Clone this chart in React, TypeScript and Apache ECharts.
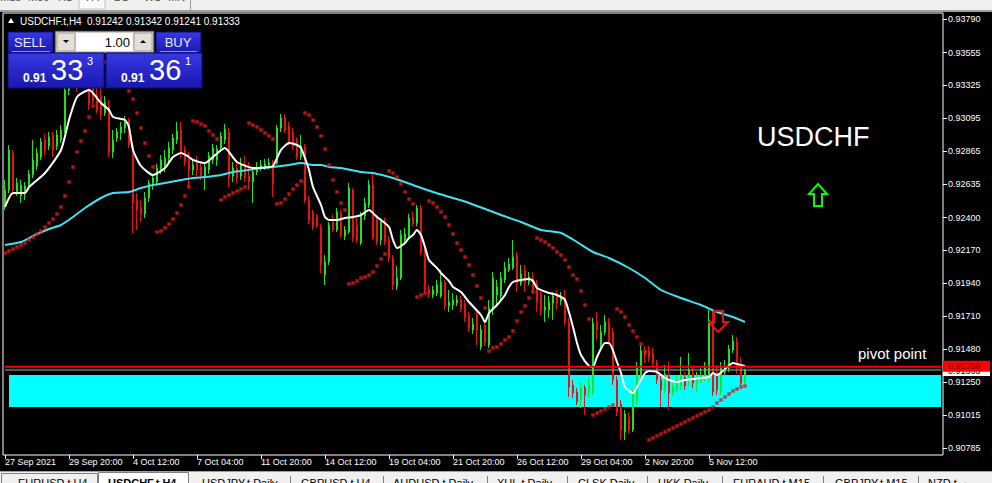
import React, { useEffect, useRef } from "react";
import * as echarts from "echarts";

const F = '"Liberation Sans", Arial, sans-serif';

// ---------- data ----------
const symbolName = "USDCHF.t,H4";
const lastQuote = "0.91242 0.91342 0.91241 0.91333";
const timeLabels = [
  "27 Sep 2021", "29 Sep 20:00", "4 Oct 12:00", "7 Oct 04:00", "11 Oct 20:00", "14 Oct 12:00",
  "19 Oct 04:00", "21 Oct 20:00", "26 Oct 12:00", "29 Oct 04:00", "2 Nov 20:00", "5 Nov 12:00",
];
const LABEL_STEP = 16; // bars between time labels
const SLOTS = 235; // bar slots across the plot (incl. empty right margin)

// [open, high, low, close]
const bars: number[][] = [
  [0.92488, 0.92663, 0.92453, 0.92593], [0.92593, 0.92908, 0.92572, 0.92873], [0.92852, 0.92873, 0.92558, 0.92593],
  [0.92579, 0.92677, 0.92551, 0.92642], [0.92551, 0.92663, 0.92502, 0.92628], [0.92572, 0.92649, 0.92523, 0.92621],
  [0.92614, 0.92733, 0.92593, 0.92705], [0.92698, 0.92943, 0.92677, 0.92803], [0.92761, 0.92887, 0.92733, 0.92852],
  [0.92824, 0.92957, 0.92803, 0.92929], [0.92943, 0.92985, 0.92838, 0.92873], [0.92901, 0.92999, 0.92873, 0.92964],
  [0.92978, 0.92999, 0.92824, 0.92873], [0.92901, 0.93013, 0.92873, 0.92978], [0.92943, 0.93048, 0.92922, 0.93013],
  [0.93013, 0.93328, 0.92992, 0.93293], [0.93293, 0.93433, 0.93258, 0.93377], [0.93377, 0.93468, 0.93328, 0.93419],
  [0.93419, 0.93461, 0.93279, 0.93349], [0.93349, 0.93447, 0.93307, 0.93405], [0.93398, 0.93489, 0.93321, 0.93433],
  [0.93433, 0.93461, 0.93153, 0.93188], [0.93328, 0.93377, 0.93195, 0.93223], [0.93258, 0.93349, 0.93132, 0.93153],
  [0.93251, 0.93307, 0.93083, 0.93118], [0.93132, 0.93251, 0.93111, 0.93209], [0.93181, 0.93223, 0.92824, 0.92859],
  [0.92859, 0.93013, 0.92817, 0.92943], [0.92957, 0.93027, 0.92929, 0.92999], [0.92992, 0.93069, 0.92943, 0.93034],
  [0.93027, 0.93111, 0.92992, 0.93083], [0.93083, 0.93097, 0.92887, 0.92908], [0.92908, 0.92929, 0.92292, 0.92502],
  [0.92523, 0.92572, 0.92313, 0.92453], [0.92467, 0.92523, 0.92369, 0.92425], [0.92425, 0.92579, 0.92397, 0.92537],
  [0.92537, 0.92663, 0.92509, 0.92642], [0.92642, 0.92705, 0.92593, 0.92677], [0.92649, 0.92775, 0.92621, 0.92747],
  [0.92733, 0.92838, 0.92705, 0.92803], [0.92747, 0.92873, 0.92719, 0.92817], [0.92817, 0.92929, 0.92789, 0.92887],
  [0.92873, 0.92985, 0.92845, 0.92957], [0.92943, 0.93069, 0.92915, 0.93006], [0.93013, 0.93069, 0.92817, 0.92859],
  [0.92873, 0.92901, 0.92761, 0.92789], [0.92817, 0.92859, 0.92607, 0.92726], [0.92733, 0.92803, 0.92698, 0.92768],
  [0.92796, 0.92831, 0.92677, 0.92733], [0.92754, 0.92782, 0.92663, 0.92691], [0.92691, 0.92789, 0.92593, 0.92754],
  [0.92733, 0.92859, 0.92705, 0.92831], [0.92803, 0.92915, 0.92775, 0.92887], [0.92803, 0.92908, 0.92761, 0.92880],
  [0.92887, 0.92999, 0.92859, 0.92971], [0.92943, 0.93055, 0.92915, 0.93020], [0.92999, 0.93027, 0.92614, 0.92677],
  [0.92691, 0.92789, 0.92649, 0.92747], [0.92747, 0.92803, 0.92642, 0.92677], [0.92691, 0.92817, 0.92663, 0.92775],
  [0.92775, 0.92831, 0.92649, 0.92677], [0.92691, 0.92789, 0.92593, 0.92649], [0.92649, 0.92747, 0.92502, 0.92719],
  [0.92719, 0.92789, 0.92698, 0.92754], [0.92754, 0.92803, 0.92726, 0.92768], [0.92761, 0.92810, 0.92733, 0.92775],
  [0.92768, 0.92817, 0.92740, 0.92782], [0.92782, 0.92803, 0.92544, 0.92635], [0.92782, 0.93048, 0.92768, 0.93027],
  [0.93027, 0.93125, 0.92999, 0.93097], [0.93104, 0.93125, 0.92992, 0.93013], [0.93041, 0.93069, 0.92908, 0.92929],
  [0.92992, 0.93027, 0.92873, 0.92894], [0.92943, 0.92964, 0.92803, 0.92824], [0.92824, 0.92978, 0.92803, 0.92901],
  [0.92894, 0.92915, 0.92502, 0.92523], [0.92523, 0.92551, 0.92355, 0.92383], [0.92432, 0.92453, 0.92313, 0.92334],
  [0.92404, 0.92425, 0.92327, 0.92341], [0.92334, 0.92355, 0.92012, 0.92068], [0.91998, 0.92138, 0.91928, 0.92089],
  [0.92089, 0.92369, 0.92068, 0.92348], [0.92369, 0.92418, 0.92299, 0.92313], [0.92313, 0.92467, 0.92299, 0.92439],
  [0.92432, 0.92453, 0.92257, 0.92278], [0.92271, 0.92341, 0.92243, 0.92313], [0.92299, 0.92642, 0.92285, 0.92607],
  [0.92593, 0.92607, 0.92229, 0.92257], [0.92348, 0.92397, 0.92222, 0.92243], [0.92222, 0.92439, 0.92208, 0.92418],
  [0.92411, 0.92537, 0.92383, 0.92502], [0.92488, 0.92663, 0.92467, 0.92628], [0.92628, 0.92719, 0.92243, 0.92257],
  [0.92397, 0.92418, 0.92208, 0.92229], [0.92243, 0.92397, 0.92208, 0.92369], [0.92369, 0.92397, 0.92208, 0.92229],
  [0.92243, 0.92271, 0.92089, 0.92117], [0.92117, 0.92138, 0.91893, 0.91928], [0.91921, 0.92061, 0.91893, 0.91977],
  [0.91977, 0.92313, 0.91963, 0.92278], [0.92243, 0.92327, 0.92208, 0.92285], [0.92271, 0.92425, 0.92243, 0.92397],
  [0.92404, 0.92439, 0.92341, 0.92355], [0.92362, 0.92488, 0.92341, 0.92467], [0.92467, 0.92488, 0.92138, 0.92159],
  [0.92173, 0.92201, 0.91872, 0.91893], [0.91900, 0.91928, 0.91837, 0.91865], [0.91858, 0.91921, 0.91837, 0.91893],
  [0.91872, 0.91963, 0.91851, 0.91928], [0.91851, 0.92033, 0.91837, 0.91949], [0.91942, 0.91963, 0.91753, 0.91781],
  [0.91781, 0.91893, 0.91739, 0.91809], [0.91788, 0.91872, 0.91753, 0.91823], [0.91802, 0.91858, 0.91781, 0.91823],
  [0.91823, 0.91851, 0.91739, 0.91760], [0.91795, 0.91823, 0.91669, 0.91697], [0.91711, 0.91739, 0.91599, 0.91627],
  [0.91613, 0.91697, 0.91585, 0.91655], [0.91718, 0.91753, 0.91508, 0.91613], [0.91494, 0.91648, 0.91473, 0.91613],
  [0.91648, 0.91683, 0.91501, 0.91529], [0.91508, 0.91823, 0.91487, 0.91767], [0.91753, 0.92019, 0.91718, 0.91977],
  [0.91858, 0.91963, 0.91788, 0.91914], [0.91851, 0.92019, 0.91823, 0.91977], [0.91963, 0.92089, 0.91942, 0.92047],
  [0.92033, 0.92117, 0.92019, 0.92075], [0.92047, 0.92243, 0.92033, 0.92124], [0.92131, 0.92159, 0.91879, 0.91942],
  [0.91942, 0.92068, 0.91921, 0.92005], [0.92033, 0.92068, 0.91879, 0.91942], [0.91949, 0.92019, 0.91928, 0.91984],
  [0.91977, 0.92019, 0.91872, 0.91893], [0.91935, 0.91963, 0.91739, 0.91809], [0.91865, 0.91893, 0.91711, 0.91753],
  [0.91753, 0.91858, 0.91669, 0.91774], [0.91753, 0.91851, 0.91697, 0.91809], [0.91802, 0.91879, 0.91683, 0.91851],
  [0.91858, 0.91893, 0.91753, 0.91802], [0.91816, 0.91879, 0.91788, 0.91851], [0.91844, 0.91893, 0.91648, 0.91669],
  [0.91669, 0.91697, 0.91144, 0.91214], [0.91228, 0.91263, 0.91137, 0.91172], [0.91179, 0.91207, 0.91088, 0.91109],
  [0.91123, 0.91249, 0.91067, 0.91207], [0.91207, 0.91228, 0.91018, 0.91158], [0.91172, 0.91277, 0.91137, 0.91235],
  [0.91179, 0.91697, 0.91158, 0.91662], [0.91669, 0.91739, 0.91543, 0.91613], [0.91508, 0.91648, 0.91473, 0.91599],
  [0.91599, 0.91718, 0.91578, 0.91669], [0.91662, 0.91697, 0.91508, 0.91543], [0.91599, 0.91627, 0.91228, 0.91263],
  [0.91263, 0.91291, 0.91011, 0.91039], [0.91095, 0.91123, 0.90843, 0.90913], [0.90899, 0.91053, 0.90843, 0.91025],
  [0.91004, 0.91039, 0.90885, 0.90913], [0.90913, 0.91193, 0.90899, 0.91165], [0.91123, 0.91389, 0.91088, 0.91347],
  [0.91291, 0.91508, 0.91263, 0.91466], [0.91473, 0.91501, 0.91382, 0.91431], [0.91466, 0.91501, 0.91389, 0.91424],
  [0.91452, 0.91487, 0.91361, 0.91382], [0.91382, 0.91403, 0.91235, 0.91263], [0.91263, 0.91298, 0.91074, 0.91193],
  [0.91193, 0.91368, 0.91172, 0.91305], [0.91291, 0.91389, 0.91053, 0.91172], [0.91172, 0.91263, 0.91151, 0.91214],
  [0.91200, 0.91291, 0.91179, 0.91242], [0.91221, 0.91424, 0.91193, 0.91284], [0.91277, 0.91319, 0.91193, 0.91221],
  [0.91263, 0.91452, 0.91221, 0.91333], [0.91312, 0.91347, 0.91207, 0.91242], [0.91242, 0.91319, 0.91179, 0.91284],
  [0.91263, 0.91347, 0.91242, 0.91298], [0.91284, 0.91389, 0.91256, 0.91347], [0.91277, 0.91753, 0.91249, 0.91683],
  [0.91725, 0.91753, 0.91151, 0.91179], [0.91319, 0.91368, 0.91158, 0.91193], [0.91179, 0.91389, 0.91158, 0.91347],
  [0.91319, 0.91403, 0.91291, 0.91354], [0.91340, 0.91508, 0.91319, 0.91480], [0.91473, 0.91578, 0.91452, 0.91536],
  [0.91536, 0.91564, 0.91305, 0.91347], [0.91375, 0.91424, 0.91221, 0.91242], [0.91242, 0.91342, 0.91241, 0.91333],
];

// Parabolic SAR, one dot per bar
const sar: number[] = [
  0.92152, 0.92166, 0.92180, 0.92194, 0.92208, 0.92222, 0.92243, 0.92264, 0.92285, 0.92306,
  0.92334, 0.92362, 0.92390, 0.92425, 0.92474, 0.92551, 0.92649, 0.92754, 0.92859, 0.92936,
  0.93006, 0.93104, 0.93181,
  0.93503, 0.93496, 0.93489, 0.93475, 0.93454, 0.93426, 0.93391, 0.93342, 0.93286, 0.93230,
  0.93132, 0.93027, 0.92922, 0.92831, 0.92754,
  0.92299, 0.92306, 0.92327, 0.92355, 0.92390, 0.92432, 0.92488, 0.92551, 0.92614,
  0.93076, 0.93069, 0.93055, 0.93041, 0.93006, 0.92978, 0.92950,
  0.92523, 0.92544, 0.92558, 0.92572, 0.92586, 0.92600, 0.92614,
  0.93062, 0.93048, 0.93034, 0.93013, 0.92992, 0.92971, 0.92950,
  0.92495, 0.92502, 0.92530, 0.92565, 0.92600, 0.92628, 0.92656,
  0.93132, 0.93118, 0.93083, 0.93034, 0.92971, 0.92880, 0.92768, 0.92663, 0.92579, 0.92502, 0.92453,
  0.91935, 0.91942, 0.91956, 0.91977, 0.91984, 0.91998, 0.92019, 0.92061, 0.92110, 0.92145,
  0.92726, 0.92712, 0.92684, 0.92635, 0.92579, 0.92530, 0.92495,
  0.91844, 0.91858, 0.91872,
  0.92516, 0.92502, 0.92474, 0.92439, 0.92404, 0.92348, 0.92285, 0.92222, 0.92173, 0.92124,
  0.92068, 0.91998, 0.91921, 0.91837, 0.91767,
  0.91466, 0.91487, 0.91494, 0.91515, 0.91543, 0.91564, 0.91606, 0.91676, 0.91739, 0.91781, 0.91837, 0.91879,
  0.92257, 0.92243, 0.92229, 0.92208, 0.92187, 0.92159, 0.92138, 0.92103, 0.92054, 0.91998,
  0.91970, 0.91886, 0.91788, 0.91690,
  0.91018, 0.91032, 0.91046, 0.91060, 0.91074, 0.91088,
  0.91760, 0.91739, 0.91704, 0.91648, 0.91606, 0.91564, 0.91515, 0.91459,
  0.90843, 0.90857, 0.90871, 0.90885, 0.90899, 0.90913, 0.90927, 0.90941, 0.90955, 0.90969,
  0.90983, 0.90997, 0.91011, 0.91025, 0.91039, 0.91053, 0.91074, 0.91102, 0.91123, 0.91144,
  0.91165, 0.91186, 0.91200, 0.91214, 0.91221,
];

// fast moving average (white), read at [bar, price]
const fastMA: number[][] = [
  [0, 0.92474], [2, 0.92572], [5, 0.92572], [6, 0.92614], [10, 0.92712], [14, 0.92873], [16, 0.93083],
  [18, 0.93244], [21, 0.93293], [24, 0.93202], [26, 0.93153], [27, 0.93104], [30, 0.93083], [31, 0.93034],
  [32, 0.92873], [34, 0.92761], [37, 0.92698], [40, 0.92747], [42, 0.92824], [44, 0.92852], [46, 0.92824],
  [47, 0.92803], [50, 0.92782], [52, 0.92824], [55, 0.92887], [56, 0.92859], [58, 0.92789], [62, 0.92747],
  [66, 0.92754], [67, 0.92761], [69, 0.92873], [71, 0.92922], [73, 0.92908], [74, 0.92887], [75, 0.92817],
  [76, 0.92733], [77, 0.92614], [79, 0.92488], [80, 0.92404], [81, 0.92383], [83, 0.92383], [85, 0.92397],
  [87, 0.92404], [89, 0.92418], [91, 0.92453], [93, 0.92404], [94, 0.92383], [96, 0.92334], [97, 0.92243],
  [98, 0.92187], [100, 0.92222], [101, 0.92257], [102, 0.92278], [103, 0.92313], [104, 0.92278], [105, 0.92194],
  [106, 0.92103], [108, 0.92047], [109, 0.92012], [111, 0.91956], [112, 0.91914], [114, 0.91879], [116, 0.91809],
  [119, 0.91718], [120, 0.91669], [121, 0.91732], [123, 0.91788], [125, 0.91858], [126, 0.91914], [127, 0.91949],
  [129, 0.91963], [131, 0.91970], [132, 0.91956], [133, 0.91907], [136, 0.91872], [138, 0.91858], [140, 0.91823],
  [142, 0.91634], [143, 0.91522], [144, 0.91438], [146, 0.91361], [147, 0.91354], [148, 0.91424], [150, 0.91522],
  [151, 0.91522], [153, 0.91389], [154, 0.91312], [155, 0.91214], [157, 0.91172], [158, 0.91214], [160, 0.91312],
  [161, 0.91326], [163, 0.91319], [165, 0.91277], [166, 0.91263], [168, 0.91249], [170, 0.91263], [172, 0.91270],
  [174, 0.91277], [176, 0.91284], [177, 0.91312], [178, 0.91298], [180, 0.91340], [182, 0.91382], [183, 0.91375],
  [185, 0.91361],
];

// slow moving average (cyan), read at [bar, price]
const slowMA: number[][] = [
  [0, 0.92208], [4, 0.92229], [7, 0.92271], [11, 0.92320], [14, 0.92348], [17, 0.92404], [20, 0.92467],
  [24, 0.92537], [27, 0.92572], [31, 0.92579], [34, 0.92607], [37, 0.92628], [40, 0.92642], [44, 0.92663],
  [47, 0.92677], [50, 0.92684], [54, 0.92698], [57, 0.92719], [61, 0.92733], [64, 0.92747], [67, 0.92754],
  [71, 0.92768], [74, 0.92782], [77, 0.92768], [79, 0.92768], [81, 0.92754], [84, 0.92747], [89, 0.92719],
  [92, 0.92712], [97, 0.92677], [102, 0.92628], [107, 0.92579], [112, 0.92537], [116, 0.92502], [124, 0.92418],
  [129, 0.92369], [134, 0.92313], [139, 0.92292], [143, 0.92229], [147, 0.92159], [151, 0.92117], [156, 0.92047],
  [160, 0.91977], [164, 0.91893], [169, 0.91837], [174, 0.91788], [178, 0.91739], [182, 0.91704], [185, 0.91669],
];

const priceTicks = [
  0.90785, 0.91015, 0.9125, 0.9148, 0.9171, 0.9194, 0.9217, 0.924, 0.92635, 0.92865, 0.93095, 0.93325, 0.93555, 0.9379,
];
const priceMin = 0.90738;
const priceMax = 0.93832;
const pivotPrice = 0.91356;
const bidPrice = 0.91333;
const zoneLow = 0.91074;
const zoneHigh = 0.91298;
const zoneFromBar = 1;
const zoneToBar = 234;
const lineFromBar = 0;

const sellQuote = { pre: "0.91", big: "33", sup: "3" };
const buyQuote = { pre: "0.91", big: "36", sup: "1" };
const lotSize = "1.00";
const timeframes = ["M15", "M30", "H1", "H4", "D1", "W1", "MN"];
const timeframeX = [0, 28, 58, 86, 114, 144, 168];
const tabs = [
  "EURUSD.t,H4", "USDCHF.t,H4", "USDJPY.t,Daily", "GBPUSD.t,H4", "AUDUSD.t,Daily", "XUL.t,Daily",
  "CLSK,Daily", "UKK,Daily", "EURAUD.t,M15", "GBPJPY.t,M15", "NZD.t",
];
const tabX = [18, 108, 202, 301, 393, 497, 578, 658, 733, 835, 928];
const tabSeparators = [290, 383, 487, 567, 647, 722, 823, 918];

// ---------- styling ----------
const GREEN = "#22e022";
const RED = "#e81212";

const labelAt = (i: number) => i % LABEL_STEP === 0 && i / LABEL_STEP < timeLabels.length;
const categories = Array.from({ length: SLOTS }, (_, i) => (labelAt(i) ? timeLabels[i / LABEL_STEP] : String(i)));

const text = (t: string, x: number, y: number, o: any = {}) => ({
  type: "text",
  x,
  y,
  z: 100,
  silent: true,
  style: { text: t, fill: "#ffffff", fontSize: 10, fontFamily: F, align: "left", verticalAlign: "middle", ...o },
});
const rect = (x: number, y: number, w: number, h: number, style: any) => ({
  type: "rect",
  z: 100,
  silent: true,
  shape: { x, y, width: w, height: h },
  style,
});
const line = (x1: number, y1: number, x2: number, y2: number, stroke: string, lw = 1) => ({
  type: "line",
  z: 100,
  silent: true,
  shape: { x1, y1, x2, y2 },
  style: { stroke, lineWidth: lw },
});
const blue = () =>
  new echarts.graphic.LinearGradient(0, 0, 0, 1, [
    { offset: 0, color: "#3838e4" },
    { offset: 1, color: "#1818b0" },
  ]);

function buildGraphics(pivotY: number, bidY: number) {
  const g: any[] = [];
  // top toolbar strip (cut off)
  g.push(rect(0, 0, 992, 10, { fill: "#f0f0f0" }));
  g.push(rect(79, -2, 26, 11, { fill: "#fbfbfb", stroke: "#c4c4c4" }));
  g.push(line(190.5, 0, 190.5, 10, "#a0a0a0"));
  g.push(rect(0, 10, 992, 2, { fill: "#a0a0a0" }));
  timeframes.forEach((t, i) => g.push(text(t, timeframeX[i], 2, { fill: "#555", fontSize: 11, verticalAlign: "bottom" })));

  // bottom tab bar (cut off)
  g.push(rect(0, 471, 992, 12, { fill: "#f0f0f0" }));
  g.push(line(0, 471.5, 992, 471.5, "#a0a0a0"));
  g.push(rect(1.5, 473.5, 96, 12, { fill: "#f0f0f0", stroke: "#808080" }));
  g.push(rect(98.5, 472.5, 90, 12, { fill: "#ffffff", stroke: "#808080" }));
  tabSeparators.forEach((x) => g.push(line(x + 0.5, 476, x + 0.5, 483, "#808080")));
  tabs.forEach((t, i) =>
    g.push(text(t, tabX[i], 477, { fill: "#000", fontSize: 11, verticalAlign: "top", fontWeight: i === 1 ? "bold" : "normal" }))
  );
  g.push(text("\u25B8", 965, 478, { fill: "#000", fontSize: 11, verticalAlign: "top" }));

  // title
  g.push({
    type: "polygon",
    z: 100,
    silent: true,
    shape: { points: [[8, 23], [14, 23], [11, 18]] },
    style: { fill: "#ffffff" },
  });
  g.push(text(symbolName, 20, 21));
  g.push(text(lastQuote, 87, 21));

  // one-click trading panel
  g.push(rect(8, 32, 45, 21, { fill: blue(), stroke: "#0c0c78" }));
  g.push(line(12, 51.5, 50, 51.5, "#8c8cff"));
  g.push(text("SELL", 30, 42, { align: "center", fontSize: 13, fill: "#e8e8ff" }));
  g.push(rect(55, 31, 99, 22, { fill: "#d4d0c8", stroke: "#303030" }));
  g.push(rect(57, 33, 18, 18, { fill: "#e4e0d8", stroke: "#a0a0a0" }));
  g.push({ type: "polygon", z: 101, silent: true, shape: { points: [[63, 40], [69, 40], [66, 43]] }, style: { fill: "#000" } });
  g.push(rect(76, 33, 57, 18, { fill: "#ffffff" }));
  g.push(text(lotSize, 130, 42, { align: "right", fontSize: 13, fill: "#000" }));
  g.push(rect(134, 33, 18, 18, { fill: "#e4e0d8", stroke: "#a0a0a0" }));
  g.push({ type: "polygon", z: 101, silent: true, shape: { points: [[140, 43], [146, 43], [143, 40]] }, style: { fill: "#000" } });
  g.push(rect(156, 32, 45, 21, { fill: blue(), stroke: "#0c0c78" }));
  g.push(line(160, 51.5, 197, 51.5, "#8c8cff"));
  g.push(text("BUY", 178, 42, { align: "center", fontSize: 13, fill: "#e8e8ff" }));

  const quoteBox = (x: number, q: { pre: string; big: string; sup: string }) => {
    g.push(rect(x, 53, 96, 35, { fill: blue(), stroke: "#0c0c78" }));
    g.push(text(q.pre, x + 15, 78, { fontSize: 12, fontWeight: "bold" }));
    g.push(text(q.big, x + 43, 70, { fontSize: 29 }));
    g.push(text(q.sup, x + 79, 61, { fontSize: 11 }));
  };
  quoteBox(8, sellQuote);
  quoteBox(106, buyQuote);

  // chart annotations
  g.push(text("USDCHF", 757, 137, { fontSize: 27 }));
  g.push({
    type: "polygon",
    z: 100,
    silent: true,
    shape: { points: [[818, 184], [827, 194], [822, 194], [822, 206], [814, 206], [814, 194], [809, 194]] },
    style: { fill: "none", stroke: "#00ff00", lineWidth: 2 },
  });
  g.push({
    type: "polygon",
    z: 100,
    silent: true,
    shape: { points: [[714, 311], [723, 311], [723, 322], [728, 322], [718, 332], [709, 322], [714, 322]] },
    style: { fill: "none", stroke: RED, lineWidth: 2 },
  });
  g.push(text("pivot point", 858, pivotY - 13, { fontSize: 15 }));

  // price tags on the axis
  g.push(rect(943, bidY - 5, 47, 11, { fill: "#ffffff" }));
  g.push(text(bidPrice.toFixed(5), 948, bidY + 0.5, { fontSize: 9, fill: "#000" }));
  g.push(rect(943, pivotY - 6, 47, 11, { fill: "#ff0000" }));
  g.push(text(pivotPrice.toFixed(5), 948, pivotY - 0.5, { fontSize: 9, fill: "#6a0000" }));
  return g;
}

const hLine = (price: number, color: string, width: number, z: number) => ({
  type: "line",
  z,
  silent: true,
  data: [
    [lineFromBar, price],
    [SLOTS - 1, price],
  ],
  showSymbol: false,
  lineStyle: { color, width, type: "solid" },
});

const option: any = {
  animation: false,
  backgroundColor: "#000000",
  grid: {
    left: 3,
    right: 49,
    top: 13,
    bottom: 28,
    show: true,
    backgroundColor: "#000000",
    borderColor: "#ffffff",
    borderWidth: 1,
  },
  xAxis: {
    type: "category",
    data: categories,
    boundaryGap: true,
    axisLine: { show: false },
    axisTick: {
      show: true,
      alignWithLabel: true,
      interval: (i: number) => labelAt(i),
      length: 4,
      lineStyle: { color: "#ffffff" },
    },
    axisLabel: {
      interval: (i: number) => labelAt(i),
      align: "left",
      color: "#ffffff",
      fontSize: 9,
      fontFamily: F,
      margin: 2,
    },
    splitLine: { show: false },
  },
  yAxis: {
    type: "value",
    position: "right",
    min: priceMin,
    max: priceMax,
    axisLine: { show: false },
    axisTick: { show: true, customValues: priceTicks, length: 4, lineStyle: { color: "#ffffff" } },
    axisLabel: {
      customValues: priceTicks,
      formatter: (v: number) => v.toFixed(5),
      color: "#ffffff",
      fontSize: 9,
      fontFamily: F,
      margin: 5,
    },
    splitLine: { show: false },
  },
  series: [
    {
      type: "line",
      data: [],
      z: 1,
      silent: true,
      markArea: {
        silent: true,
        itemStyle: { color: "#00ffff", opacity: 1 },
        label: { show: false },
        data: [[{ xAxis: zoneFromBar, yAxis: zoneHigh }, { xAxis: zoneToBar, yAxis: zoneLow }]],
      },
    },
    {
      type: "candlestick",
      z: 2,
      silent: true,
      barWidth: 2,
      data: bars.map((b) => [b[0], b[3], b[2], b[1]]),
      itemStyle: { color: GREEN, color0: RED, borderColor: GREEN, borderColor0: RED, borderWidth: 1 },
    },
    {
      type: "line",
      z: 3,
      silent: true,
      data: slowMA,
      showSymbol: false,
      smooth: 0.2,
      lineStyle: { color: "#40e4f0", width: 2 },
    },
    {
      type: "line",
      z: 4,
      silent: true,
      data: fastMA,
      showSymbol: false,
      smooth: 0.2,
      lineStyle: { color: "#ffffff", width: 2 },
    },
    {
      type: "scatter",
      z: 5,
      silent: true,
      data: sar.map((v, i) => [i, v]),
      symbol: "rect",
      symbolSize: 3.5,
      itemStyle: { color: "#e41818" },
    },
    hLine(bidPrice, "#a8a8a8", 1, 6),
    hLine(pivotPrice, "#ff0000", 2, 7),
  ],
};

export default function App() {
  const ref = useRef<HTMLDivElement>(null);
  useEffect(() => {
    if (!ref.current) return;
    const chart = echarts.init(ref.current, null, { renderer: "svg" });
    chart.setOption(option);
    const pivotY = chart.convertToPixel({ yAxisIndex: 0 }, pivotPrice) as number;
    const bidY = chart.convertToPixel({ yAxisIndex: 0 }, bidPrice) as number;
    chart.setOption({ graphic: buildGraphics(pivotY, bidY) });
    return () => chart.dispose();
  }, []);
  return <div ref={ref} style={{ position: "absolute", left: 0, top: 0, width: 992, height: 483 }} />;
}
